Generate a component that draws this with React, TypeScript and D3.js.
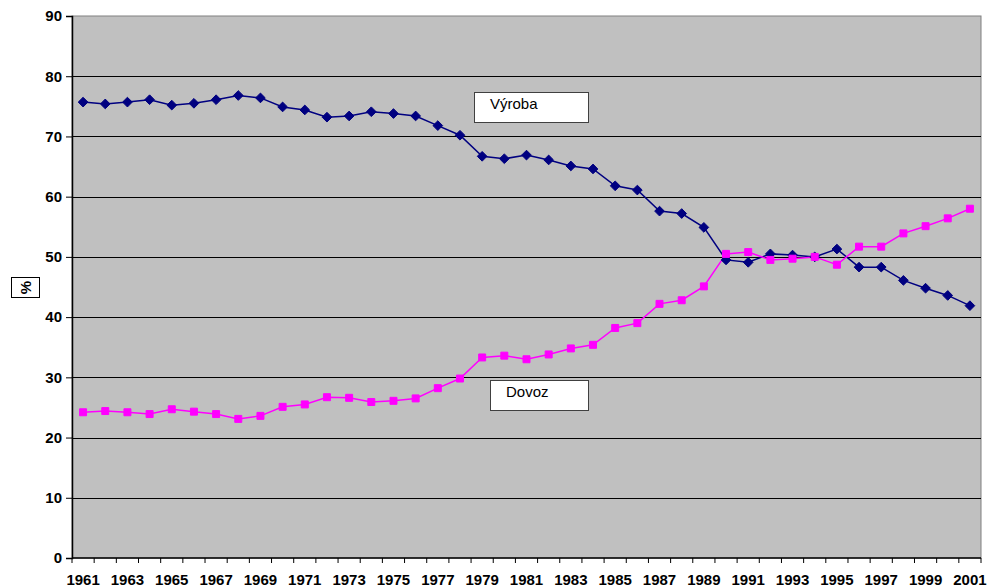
import React, { useEffect, useRef } from 'react';
import * as d3 from 'd3';

const years = d3.range(1961, 2002).map(String);

const vyroba = [
  75.7, 75.4, 75.7, 76.1, 75.2, 75.5, 76.1, 76.8, 76.4, 74.9,
  74.4, 73.2, 73.4, 74.1, 73.8, 73.4, 71.8, 70.2, 66.7, 66.3,
  66.9, 66.1, 65.1, 64.6, 61.8, 61.1, 57.6, 57.2, 54.9, 49.5,
  49.1, 50.5, 50.3, 50.0, 51.3, 48.3, 48.3, 46.1, 44.8, 43.6,
  41.9,
];

const dovoz = [
  24.2, 24.4, 24.2, 23.9, 24.7, 24.3, 23.9, 23.1, 23.6, 25.1,
  25.5, 26.7, 26.6, 25.9, 26.1, 26.5, 28.2, 29.8, 33.3, 33.6,
  33.0, 33.8, 34.8, 35.4, 38.2, 39.0, 42.2, 42.8, 45.1, 50.5,
  50.8, 49.5, 49.7, 50.0, 48.7, 51.7, 51.7, 53.9, 55.1, 56.4,
  58.0,
];

const yTicks = [0, 10, 20, 30, 40, 50, 60, 70, 80, 90];

const FONT = '"Liberation Sans", Arial, sans-serif';

const App: React.FC = () => {
  const svgRef = useRef<SVGSVGElement>(null);

  useEffect(() => {
    if (svgRef.current == null) return;
    const width = 987;
    const height = 588;
    const left = 72, right = 981, top = 16, bottom = 558;

    const svg = d3.select(svgRef.current)
      .attr('width', width)
      .attr('height', height);
    svg.selectAll('*').remove();

    const x = d3.scaleBand().domain(years).range([left, right]);
    const y = d3.scaleLinear().domain([0, 90]).range([bottom, top]);
    const cx = (d: string) => (x(d) as number) + x.bandwidth() / 2;

    // plot area
    svg.append('rect')
      .attr('x', left).attr('y', top)
      .attr('width', right - left).attr('height', bottom - top)
      .attr('fill', '#c0c0c0')
      .attr('stroke', '#808080').attr('stroke-width', 1);

    // gridlines
    svg.append('g').selectAll('line')
      .data(yTicks.filter(t => t > 0 && t < 90))
      .join('line')
      .attr('x1', left).attr('x2', right)
      .attr('y1', d => Math.round(y(d)) + 0.5).attr('y2', d => Math.round(y(d)) + 0.5)
      .attr('stroke', '#000').attr('stroke-width', 1);

    // y axis
    const yAxis = svg.append('g')
      .attr('transform', `translate(${left},0)`)
      .call(d3.axisLeft(y).tickValues(yTicks).tickSize(6).tickPadding(4));
    yAxis.select('.domain').attr('stroke', '#000').attr('stroke-width', 1.5);
    yAxis.selectAll('.tick line').attr('stroke', '#000');
    yAxis.selectAll('text')
      .attr('font-family', FONT)
      .attr('font-weight', 'bold')
      .attr('font-size', 15)
      .attr('fill', '#000');

    // x axis
    const xAxis = svg.append('g')
      .attr('transform', `translate(0,${bottom})`);
    xAxis.append('line')
      .attr('x1', left).attr('x2', right)
      .attr('y1', 0).attr('y2', 0)
      .attr('stroke', '#000').attr('stroke-width', 1.5);
    xAxis.selectAll('line.tk')
      .data([...years.map(d => x(d) as number), right])
      .join('line')
      .attr('class', 'tk')
      .attr('x1', d => d).attr('x2', d => d)
      .attr('y1', 0).attr('y2', 5)
      .attr('stroke', '#000');
    xAxis.selectAll('text')
      .data(years.filter((_, i) => i % 2 === 0))
      .join('text')
      .attr('x', d => cx(d))
      .attr('y', 27)
      .attr('text-anchor', 'middle')
      .attr('font-family', FONT)
      .attr('font-weight', 'bold')
      .attr('font-size', 15)
      .text(d => d);

    // y label
    svg.append('rect')
      .attr('x', 11.5).attr('y', 277.5)
      .attr('width', 28).attr('height', 20)
      .attr('fill', '#fff').attr('stroke', '#000');
    svg.append('text')
      .attr('transform', 'translate(31,287.5) rotate(-90)')
      .attr('text-anchor', 'middle')
      .attr('font-family', FONT)
      .attr('font-weight', 'bold')
      .attr('font-size', 15)
      .text('%');

    // lines
    const series = [
      { values: vyroba, color: '#000080', marker: 'diamond' },
      { values: dovoz, color: '#ff00ff', marker: 'square' },
    ];
    series.forEach(s => {
      const line = d3.line<number>()
        .x((_, i) => cx(years[i]))
        .y(d => y(d));
      svg.append('path')
        .datum(s.values)
        .attr('d', line)
        .attr('fill', 'none')
        .attr('stroke', s.color)
        .attr('stroke-width', 1.5);
    });
    series.forEach(s => {
      const sym = s.marker === 'diamond'
        ? d3.symbol().type(d3.symbolDiamond2).size(60)
        : d3.symbol().type(d3.symbolSquare2).size(62);
      svg.append('g').selectAll('path')
        .data(s.values)
        .join('path')
        .attr('transform', (d, i) => `translate(${cx(years[i])},${y(d)})`)
        .attr('d', sym)
        .attr('fill', s.color)
        .attr('stroke', s.color)
        .attr('stroke-width', 1);
    });

    // text boxes
    const boxes = [
      { label: 'Výroba', x: 474.5, y: 92.5, w: 114, h: 30, tx: 490 },
      { label: 'Dovoz', x: 490.5, y: 380.5, w: 98, h: 30, tx: 506 },
    ];
    boxes.forEach(b => {
      svg.append('rect')
        .attr('x', b.x).attr('y', b.y)
        .attr('width', b.w).attr('height', b.h)
        .attr('fill', '#fff').attr('stroke', '#404040').attr('stroke-width', 1);
      svg.append('text')
        .attr('x', b.tx).attr('y', b.y + 16)
        .attr('font-family', FONT)
        .attr('font-size', 15)
        .text(b.label);
    });
  }, []);

  return <svg ref={svgRef} style={{ position: 'absolute', left: 0, top: 0 }}></svg>;
};

export default App;
